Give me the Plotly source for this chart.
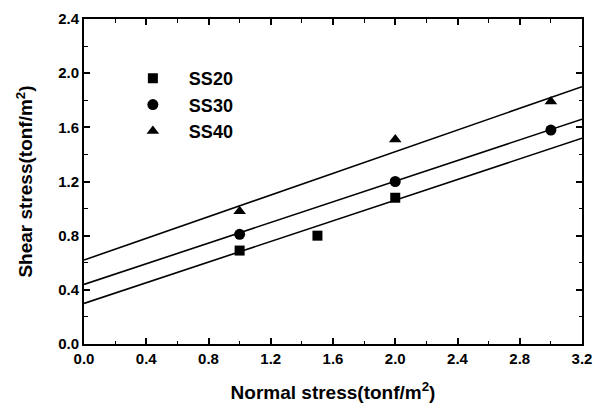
import plotly.graph_objects as go

# ---- data ----
series_names = ["SS20", "SS30", "SS40"]
symbols = ["square", "circle", "triangle-up"]

ss20_x = [1.0, 1.5, 2.0]
ss20_y = [0.69, 0.80, 1.08]
ss30_x = [1.0, 2.0, 3.0]
ss30_y = [0.81, 1.20, 1.58]
ss40_x = [1.0, 2.0, 3.0]
ss40_y = [0.98, 1.51, 1.79]

fit_x = [0.0, 3.2]
fit20_y = [0.30, 1.52]
fit30_y = [0.44, 1.66]
fit40_y = [0.62, 1.90]

x_ticks = [0.0, 0.4, 0.8, 1.2, 1.6, 2.0, 2.4, 2.8, 3.2]
y_ticks = [0.0, 0.4, 0.8, 1.2, 1.6, 2.0, 2.4]

FONT = "Liberation Sans, Arial, sans-serif"

fig = go.Figure()

for fy in [fit20_y, fit30_y, fit40_y]:
    fig.add_trace(go.Scatter(x=fit_x, y=fy, mode="lines",
                             line=dict(color="black", width=1.6),
                             showlegend=False, hoverinfo="skip"))

for name, sym, xs, ys, sz in zip(series_names, symbols,
                                 [ss20_x, ss30_x, ss40_x],
                                 [ss20_y, ss30_y, ss40_y],
                                 [10, 11, 11]):
    fig.add_trace(go.Scatter(x=xs, y=ys, mode="markers", name=name,
                             marker=dict(symbol=sym, size=sz, color="black",
                                         line=dict(width=0))))

axis_common = dict(
    showline=True, linecolor="black", linewidth=2, mirror="ticks",
    ticks="inside", ticklen=6, tickwidth=1.5, tickcolor="black",
    showgrid=False, zeroline=False, automargin=False,
    tickfont=dict(family=FONT, size=15, color="black", weight="bold"),
)

fig.update_xaxes(
    range=[0, 3.2], tickvals=x_ticks,
    ticktext=[f"{v:.1f}" for v in x_ticks],
    minor=dict(ticks="inside", ticklen=3.5, tickwidth=1.2, tickcolor="black", dtick=0.2),
    title=dict(text="Normal stress(tonf/m<sup>2</sup>)",
               font=dict(family=FONT, size=19, color="black", weight="bold"),
               standoff=20),
    **axis_common,
)
fig.update_yaxes(
    range=[0, 2.4], tickvals=y_ticks,
    ticktext=[f"{v:.1f}" for v in y_ticks],
    minor=dict(ticks="inside", ticklen=3.5, tickwidth=1.2, tickcolor="black", dtick=0.2),
    title=dict(text="Shear stress(tonf/m<sup>2</sup>)",
               font=dict(family=FONT, size=19, color="black", weight="bold"),
               standoff=20),
    **axis_common,
)

# the page body adds an 8 px margin, so the figure is 8 px smaller each way
fig.update_layout(
    width=599, height=397,
    margin=dict(l=76, r=25, t=11, b=61, autoexpand=False),
    paper_bgcolor="white", plot_bgcolor="white",
    showlegend=True,
    legend=dict(x=0.066, y=0.874, xanchor="left", yanchor="top",
                bgcolor="rgba(0,0,0,0)", itemwidth=62,
                font=dict(family=FONT, size=18, color="black", weight="bold")),
)

fig.write_html("out.html")
